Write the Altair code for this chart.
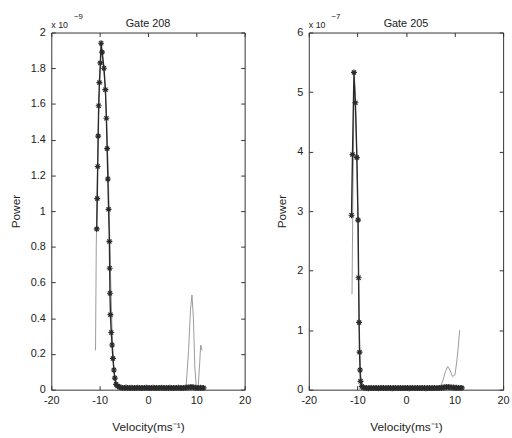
import altair as alt
import pandas as pd

# ---------------- data ----------------
# Left panel (Gate 208), power in units of 1e-9
left_fit_v = [-10.6, -10.5, -10.4, -10.3, -10.2, -10.05, -9.85, -9.7, -9.5, -9.1,
              -8.8, -8.6, -8.45, -8.3, -8.15, -7.98, -7.92, -7.86, -7.76, -7.6,
              -7.42, -7.25, -7.05, -6.85, -6.6,
              -6.3, -5.95, -5.6, -5.25, -4.9, -4.55, -4.2, -3.85, -3.5, -3.15,
              -2.8, -2.45, -2.1, -1.75, -1.4, -1.05, -0.7, -0.35, 0.0, 0.35,
              0.7, 1.05, 1.4, 1.75, 2.1, 2.45, 2.8, 3.15, 3.5, 3.85,
              4.2, 4.55, 4.9, 5.25, 5.6, 5.95, 6.3, 6.65, 7.0, 7.35,
              7.7, 8.05, 8.4, 8.75, 9.1, 9.45, 9.8, 10.15, 10.5, 10.85,
              11.2, 11.5]
left_fit_p = [0.90, 1.07, 1.25, 1.42, 1.59, 1.72, 1.83, 1.94, 1.89, 1.80,
              1.68, 1.52, 1.35, 1.18, 1.01, 0.83, 0.68, 0.54, 0.42, 0.32,
              0.25, 0.175, 0.11, 0.065, 0.03,
              0.020, 0.015, 0.012, 0.010, 0.010, 0.012, 0.010, 0.009, 0.011, 0.010,
              0.009, 0.010, 0.011, 0.010, 0.009, 0.010, 0.010, 0.011, 0.010, 0.009,
              0.010, 0.011, 0.010, 0.009, 0.010, 0.010, 0.011, 0.010, 0.009, 0.010,
              0.010, 0.011, 0.010, 0.009, 0.010, 0.010, 0.011, 0.010, 0.009, 0.010,
              0.011, 0.012, 0.013, 0.014, 0.015, 0.013, 0.011, 0.010, 0.010, 0.011,
              0.010, 0.010]
left_raw_v = [-10.85, -10.7, -10.55, -10.4, -10.2, -9.95, -9.7, -9.4, -9.1, -8.8,
              -8.5, -8.2, -7.95, -7.7, -7.45, -7.2, -6.9, -6.5, -5.0, -2.0,
              1.0, 4.0, 7.0, 7.9, 8.4, 8.8, 9.1, 9.4, 9.7, 10.0,
              10.4, 10.7, 10.9, 11.2]
left_raw_p = [0.22, 0.80, 1.05, 1.30, 1.55, 1.75, 1.90, 1.88, 1.78, 1.65,
              1.45, 1.20, 0.90, 0.60, 0.35, 0.18, 0.06, 0.02, 0.01, 0.01,
              0.01, 0.01, 0.01, 0.02, 0.22, 0.45, 0.53, 0.40, 0.12, 0.02,
              0.02, 0.15, 0.25, 0.22]

# Right panel (Gate 205), power in units of 1e-7
right_fit_v = [-11.2, -11.0, -10.7, -10.4, -10.1, -9.85, -9.75, -9.65, -9.55, -9.45,
               -9.35, -9.1, -8.8,
               -8.45, -8.1, -7.75, -7.4, -7.05, -6.7, -6.35, -6.0, -5.65, -5.3,
               -4.95, -4.6, -4.25, -3.9, -3.55, -3.2, -2.85, -2.5, -2.15, -1.8,
               -1.45, -1.1, -0.75, -0.4, -0.05, 0.3, 0.65, 1.0, 1.35, 1.7,
               2.05, 2.4, 2.75, 3.1, 3.45, 3.8, 4.15, 4.5, 4.85, 5.2,
               5.55, 5.9, 6.25, 6.6, 6.95, 7.3, 7.65, 8.0, 8.35, 8.7,
               9.05, 9.4, 9.75, 10.1, 10.45, 10.8, 11.15, 11.5]
right_fit_p = [2.93, 3.95, 5.33, 4.82, 3.90, 2.85, 1.88, 1.13, 0.63, 0.33,
               0.14, 0.055, 0.035,
               0.030, 0.028, 0.025, 0.030, 0.028, 0.026, 0.030, 0.027, 0.025, 0.028,
               0.030, 0.027, 0.026, 0.028, 0.030, 0.027, 0.025, 0.028, 0.030, 0.026,
               0.027, 0.029, 0.026, 0.028, 0.030, 0.027, 0.025, 0.028, 0.030, 0.026,
               0.027, 0.029, 0.026, 0.028, 0.030, 0.027, 0.025, 0.028, 0.030, 0.026,
               0.027, 0.029, 0.026, 0.028, 0.030, 0.032, 0.035, 0.040, 0.045, 0.045,
               0.040, 0.038, 0.035, 0.033, 0.032, 0.030, 0.030, 0.030]
right_raw_v = [-11.1, -10.95, -10.75, -10.55, -10.3, -10.1, -9.95, -9.8, -9.65, -9.5,
               -9.3, -9.0, -8.5, -5.0, 0.0, 5.0, 7.1, 7.6, 8.1, 8.6,
               9.1, 9.6, 10.1, 10.5, 10.8, 11.05]
right_raw_p = [1.60, 3.00, 4.60, 5.10, 4.50, 3.90, 3.00, 2.20, 1.40, 0.70,
               0.25, 0.08, 0.04, 0.03, 0.03, 0.03, 0.05, 0.15, 0.30, 0.39,
               0.32, 0.22, 0.25, 0.50, 0.75, 1.00]

x_ticks = [-20, -10, 0, 10, 20]
left_y_ticks = [0, 0.2, 0.4, 0.6, 0.8, 1.0, 1.2, 1.4, 1.6, 1.8, 2.0]
right_y_ticks = [0, 1, 2, 3, 4, 5, 6]

FONT = "Liberation Sans"
INK = "#222222"
STAR = "M-1,0L1,0M0,-1L0,1M-0.7,-0.7L0.7,0.7M-0.7,0.7L0.7,-0.7"


def panel(fit_v, fit_p, raw_v, raw_p, ymax, yticks, title, expo, width):
    fit = pd.DataFrame({"v": fit_v, "p": fit_p})
    raw = pd.DataFrame({"v": raw_v, "p": raw_p})
    xs = alt.Scale(domain=[-20, 20], nice=False, zero=False)
    ys = alt.Scale(domain=[0, ymax], nice=False)

    x_bottom = alt.Axis(orient="bottom", values=x_ticks, offset=-4, tickSize=4,
                        domain=False, grid=False, labelPadding=5, labelFlush=False,
                        labelExpr="'' + datum.value",
                        title="Velocity(ms\u207b\u00b9)", titlePadding=16)
    y_left = alt.Axis(orient="left", values=yticks, offset=-4, tickSize=4,
                      domain=False, grid=False, labelPadding=6, format="~g",
                      labelFlush=False, title="Power", titlePadding=8)
    x_top = alt.Axis(orient="top", values=x_ticks, offset=-4, tickSize=4,
                     domain=False, grid=False, labels=False, title=None)
    y_right = alt.Axis(orient="right", values=yticks, offset=-4, tickSize=4,
                       domain=False, grid=False, labels=False, title=None)

    raw_line = alt.Chart(raw).mark_line(color="#9a9a9a", strokeWidth=1).encode(
        x=alt.X("v:Q", scale=xs, axis=x_bottom),
        y=alt.Y("p:Q", scale=ys, axis=y_left),
    )
    fit_line = alt.Chart(fit).mark_line(color="#2a2a2a", strokeWidth=1.4).encode(
        x=alt.X("v:Q", scale=xs, axis=x_top),
        y=alt.Y("p:Q", scale=ys, axis=y_right),
    )
    fit_pts = alt.Chart(fit).mark_point(shape=STAR, size=36, filled=False,
                                        color="#2a2a2a", strokeWidth=1.2,
                                        opacity=1).encode(
        x=alt.X("v:Q", scale=xs, axis=None),
        y=alt.Y("p:Q", scale=ys, axis=None),
    )
    ttl = alt.Chart(pd.DataFrame({"t": [title]})).mark_text(
        font=FONT, fontSize=11, color=INK, baseline="middle", align="center"
    ).encode(x=alt.value(width / 2), y=alt.value(-9), text="t:N")
    base = alt.Chart(pd.DataFrame({"t": ["x 10"]})).mark_text(
        font=FONT, fontSize=9, color=INK, baseline="middle", align="left"
    ).encode(x=alt.value(0), y=alt.value(-8), text="t:N")
    sup = alt.Chart(pd.DataFrame({"t": [expo]})).mark_text(
        font=FONT, fontSize=8, color=INK, baseline="middle", align="left"
    ).encode(x=alt.value(23), y=alt.value(-16), text="t:N")

    return alt.layer(raw_line, fit_line, fit_pts, ttl, base, sup).properties(
        width=width, height=362
    )


left = panel(left_fit_v, left_fit_p, left_raw_v, left_raw_p, 2, left_y_ticks,
             "Gate 208", "\u22129", 196)
right = panel(right_fit_v, right_fit_p, right_raw_v, right_raw_p, 6, right_y_ticks,
              "Gate 205", "\u22127", 197)

chart = alt.hconcat(left, right, spacing=24).properties(
    padding={"top": 9, "left": 9, "right": 2, "bottom": 2},
    background="white",
).configure_view(stroke="#333333", strokeWidth=1).configure_axis(
    labelFont=FONT, labelFontSize=11, labelColor=INK,
    titleFont=FONT, titleFontSize=12, titleColor=INK, titleFontWeight="normal",
    tickColor="#333333", tickWidth=1
)

chart.save("out.html", embed_options={"renderer": "svg", "actions": False})
